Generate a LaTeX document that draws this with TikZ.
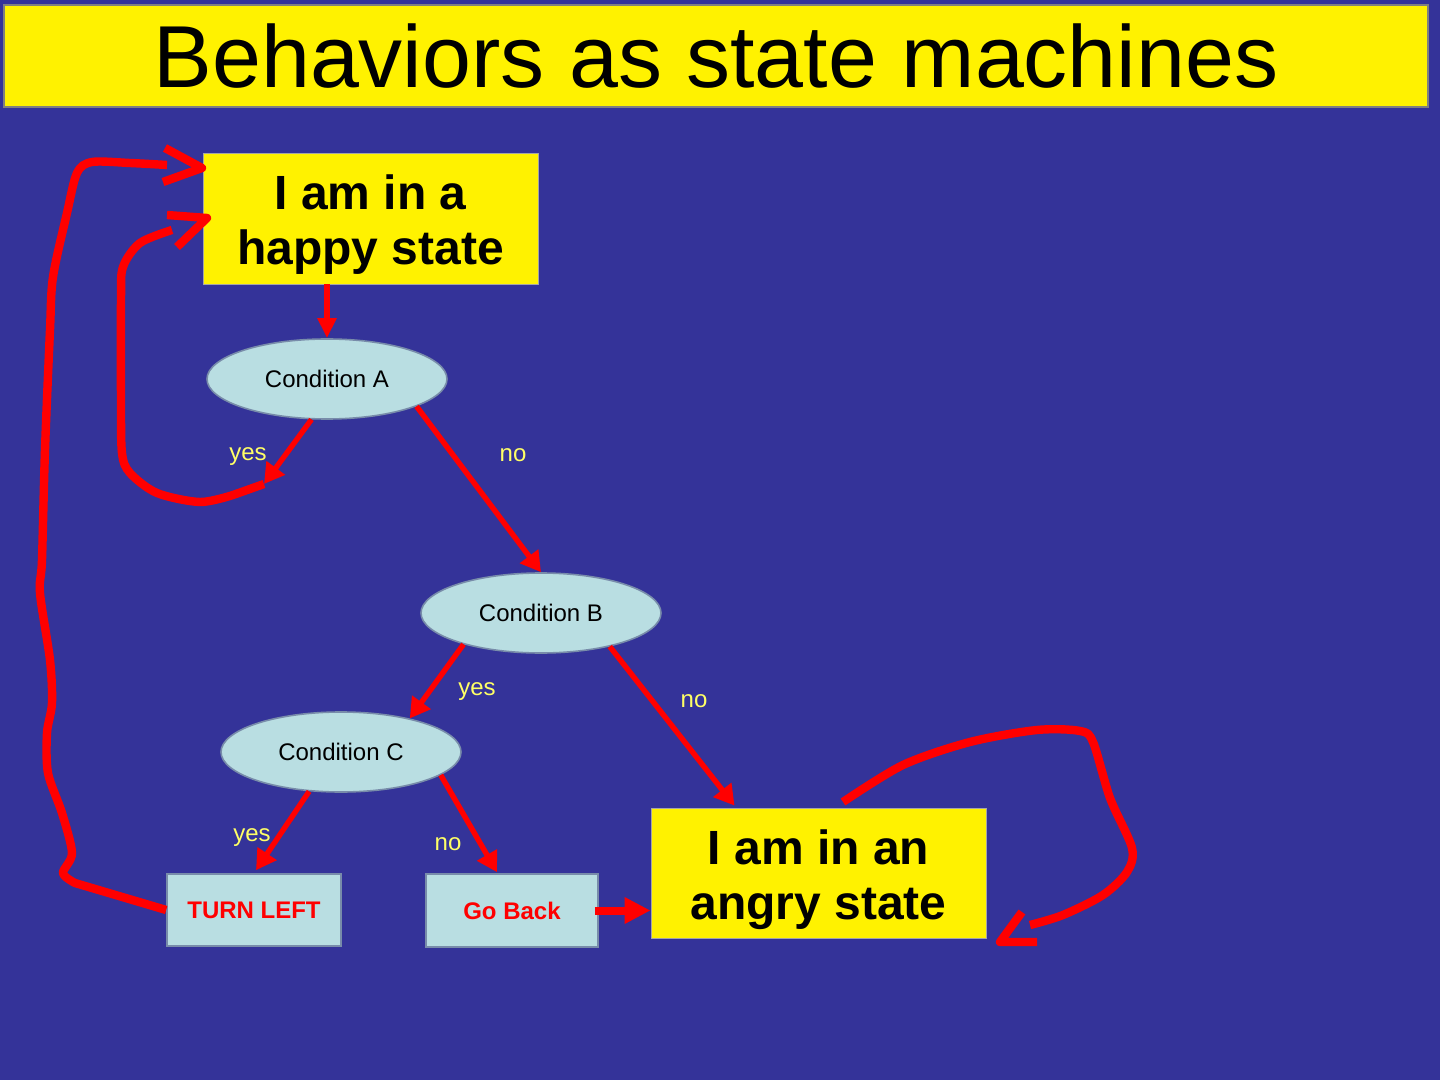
\documentclass[tikz,border=0pt]{standalone}
\usepackage{fontspec}
\setmainfont{Liberation Sans}
\usetikzlibrary{arrows.meta,shapes.geometric,calc}
\definecolor{bgblue}{RGB}{52,51,153}
\definecolor{condfill}{RGB}{185,222,226}
\definecolor{condline}{RGB}{120,140,170}
\definecolor{lblyellow}{RGB}{255,255,102}
\definecolor{hred}{RGB}{255,0,0}
\newcommand{\twolines}[2]{\raisebox{-4pt}[\height][\depth]{\begin{tabular}{@{}c@{}}#1\\#2\end{tabular}}}
\tikzset{
  titlebox/.style={fill=yellow, draw=gray, line width=0.6pt, minimum width=712pt, minimum height=51pt, inner sep=0pt, font=\fontsize{44}{48}\selectfont},
  statebox/.style={fill=yellow, draw=gray!70, line width=0.4pt, minimum width=167.5pt, minimum height=65.5pt, inner sep=0pt, font=\fontsize{24}{27.5}\selectfont\bfseries},
  cond/.style={ellipse, fill=condfill, draw=condline, line width=0.8pt, minimum width=120pt, minimum height=40pt, inner sep=0pt, font=\fontsize{12}{14}\selectfont},
  actbox/.style={fill=condfill, draw=condline, line width=0.8pt, minimum height=36pt, inner sep=0pt, text=hred, font=\fontsize{12}{14}\selectfont\bfseries},
  lbl/.style={text=lblyellow, inner sep=0pt, font=\fontsize{12}{14}\selectfont},
  arr/.style={draw=hred, line width=2.7pt, -{Triangle[length=10pt,width=11pt]}},
  hand/.style={draw=hred, line width=4.2pt, line join=round},
}
\begin{document}
\begin{tikzpicture}[x=0.5pt,y=-0.5pt]
\useasboundingbox (0,0) rectangle (1440,1080);
\fill[bgblue] (0,0) rectangle (1440,1080);

\node[titlebox] (title) at (716,56) {Behaviors as state machines};

\node[statebox] (happy) at (370.5,218.5) {\twolines{I am in a}{happy state}};
\node[statebox, minimum height=65pt] (angry) at (818.5,873) {\twolines{I am in an}{angry state}};

\node[cond] (condA) at (327,379) {Condition A};
\node[cond] (condB) at (541,613) {Condition B};
\node[cond] (condC) at (341,752) {Condition C};

\node[actbox, minimum width=87pt] (turn) at (254,910) {TURN LEFT};
\node[actbox, minimum width=86pt, minimum height=36.5pt] (goback) at (512,910.5) {Go Back};

\node[lbl] (yA) at (248,457) {yes};
\node[lbl] (nA) at (513,455) {no};
\node[lbl] (yB) at (477,692) {yes};
\node[lbl] (nB) at (694,701) {no};
\node[lbl] (yC) at (252,838) {yes};
\node[lbl] (nC) at (448,844) {no};

\coordinate (yesA) at (264,484);

% connectors
\draw[arr, -{Triangle[length=10pt,width=9pt]}] (happy.south -| condA.north) -- (condA.north);
\draw[arr] (condA.-111) -- (yesA);
\draw[arr] (condA.-17) -- (condB.north);
\draw[arr] (condB.-158) -- (condC.26);
\draw[arr] (condB.-26) -- ($(angry.north west)!0.25!(angry.north east)+(0,-2)$);
\draw[arr] (condC.-129) -- ($(turn.north)+(2,-3)$);
\draw[arr] (condC.-13) -- ($(goback.north)+(-15,-1)$);
\draw[draw=hred, line width=4pt, -{Triangle[length=13pt,width=12.5pt]}] ($(goback.east)+(-4,0)$) -- (goback.east -| angry.west);

% hand-drawn loops
\draw[hand] (turn.west) -- plot[smooth, tension=0.5] coordinates {(75,883) (63,873) (72,853) (62,813) (48,773) (47,733) (52,703) (50,660) (40,593) (42,560) (45,450) (50,330) (53,277) (67,213) (77,173) (92,162) (130,163) (167,165)};
\draw[hand] (165,148) -- (202,168) -- (163,182);

\draw[hand] (yesA) -- plot[smooth, tension=0.5] coordinates {(233,495) (200,502) (157,493) (130,473) (122,453) (121,400) (121,300) (123,267) (140,243) (172,230)};
\draw[hand] (167,215) -- (207,218) -- (177,247);

\draw[hand] plot[smooth, tension=0.5] coordinates {(843,802) (903,765) (970,742) (1037,730) (1080,731) (1093,742) (1110,798) (1132,848) (1127,872) (1103,895) (1063,915) (1030,925)};
\draw[hand] (1022,912) -- (1000,942) -- (1037,942);
\end{tikzpicture}
\end{document}
